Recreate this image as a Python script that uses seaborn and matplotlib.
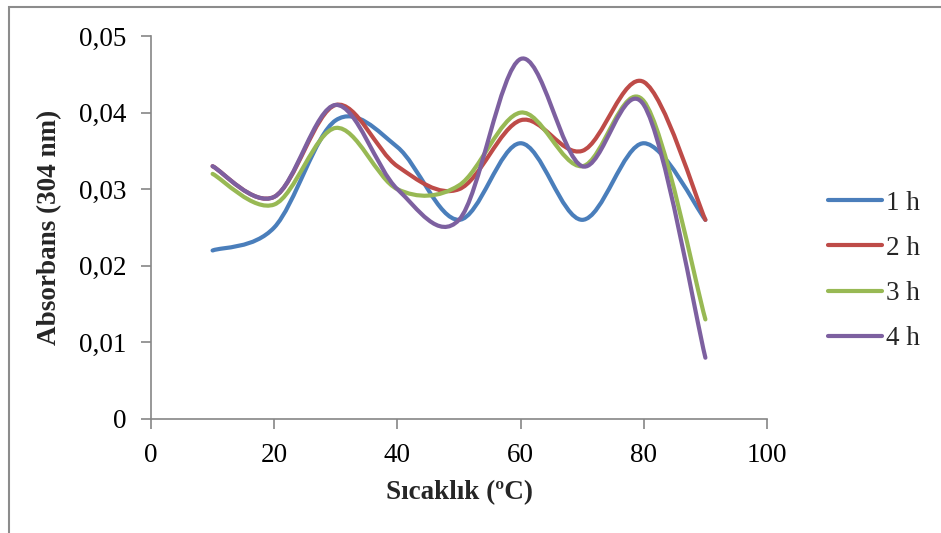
import numpy as np
import pandas as pd
import matplotlib
matplotlib.use('Agg')
import matplotlib.pyplot as plt
import seaborn as sns
from matplotlib.path import Path
from matplotlib.patches import PathPatch, Rectangle
from matplotlib.lines import Line2D
from matplotlib.ticker import FuncFormatter

# Data
temps = [10, 20, 30, 40, 50, 60, 70, 80, 90]
abs_1h = [0.022, 0.025, 0.039, 0.0355, 0.026, 0.036, 0.026, 0.036, 0.026]
abs_2h = [0.033, 0.029, 0.041, 0.033, 0.030, 0.039, 0.035, 0.044, 0.026]
abs_3h = [0.032, 0.028, 0.038, 0.030, 0.0305, 0.040, 0.033, 0.0415, 0.013]
abs_4h = [0.033, 0.029, 0.041, 0.030, 0.026, 0.047, 0.033, 0.041, 0.008]
series_names = ['1 h', '2 h', '3 h', '4 h']
colors = ['#4A7EBB', '#BE4B48', '#98B954', '#7D60A0']

df = pd.DataFrame({'T': temps, '1 h': abs_1h, '2 h': abs_2h,
                   '3 h': abs_3h, '4 h': abs_4h})

sns.set_style('white')
plt.rcParams['font.family'] = ['Liberation Serif', 'DejaVu Serif']
FS = 19.5

fig = plt.figure(figsize=(9.41, 5.33), dpi=100)
ax = fig.add_axes([151/941, 1 - 419/533, 616/941, 383/533])

# chart area frame like Excel
fig.patches.append(Rectangle((9/941, -0.1), 1.2, 1 - 7/533 + 0.1,
                             transform=fig.transFigure, fill=False,
                             edgecolor='#8c8c8c', linewidth=1.5))


def smooth_path(x, y):
    # Excel-style smoothed line: Bezier segments with Catmull-Rom controls
    pts = np.column_stack([x, y]).astype(float)
    n = len(pts)
    verts = [pts[0]]
    codes = [Path.MOVETO]
    for i in range(n - 1):
        p0 = pts[i - 1] if i > 0 else pts[i]
        p1 = pts[i]
        p2 = pts[i + 1]
        p3 = pts[i + 2] if i + 2 < n else pts[i + 1]
        c1 = p1 + (p2 - p0) / 6
        c2 = p2 - (p3 - p1) / 6
        verts += [c1, c2, p2]
        codes += [Path.CURVE4] * 3
    return Path(verts, codes)


handles = []
for name, col in zip(series_names, colors):
    patch = PathPatch(smooth_path(df['T'], df[name]), facecolor='none',
                      edgecolor=col, linewidth=3, capstyle='round',
                      joinstyle='round')
    ax.add_patch(patch)
    handles.append(Line2D([], [], color=col, linewidth=3,
                          solid_capstyle='round', label=name))

ax.set_xlim(0, 100)
ax.set_ylim(0, 0.05)
ax.set_xticks([0, 20, 40, 60, 80, 100])
ax.set_yticks([0, 0.01, 0.02, 0.03, 0.04, 0.05])
ax.yaxis.set_major_formatter(FuncFormatter(
    lambda v, p: '0' if v == 0 else f'{v:.2f}'.replace('.', ',')))

sns.despine(ax=ax)
for s in ['left', 'bottom']:
    ax.spines[s].set_color('#868686')
    ax.spines[s].set_linewidth(1.2)
ax.tick_params(axis='both', direction='out', length=7, width=1.2,
               color='#868686', labelsize=FS, labelcolor='black',
               left=True, bottom=True)
ax.tick_params(axis='y', pad=11)
ax.tick_params(axis='x', pad=10)

ax.set_xlabel('Sıcaklık (ºC)', fontsize=FS, fontweight='bold', labelpad=9)
ax.set_ylabel('Absorbans (304 nm)', fontsize=FS, fontweight='bold',
              labelpad=12)

leg = fig.legend(handles=handles, loc='center left',
                 bbox_to_anchor=(828/941, 1 - 271/533), frameon=False,
                 fontsize=FS, handlelength=2.0, handletextpad=0.15,
                 labelspacing=0.75, borderpad=0, borderaxespad=0)

fig.savefig('out.png', dpi=100)
